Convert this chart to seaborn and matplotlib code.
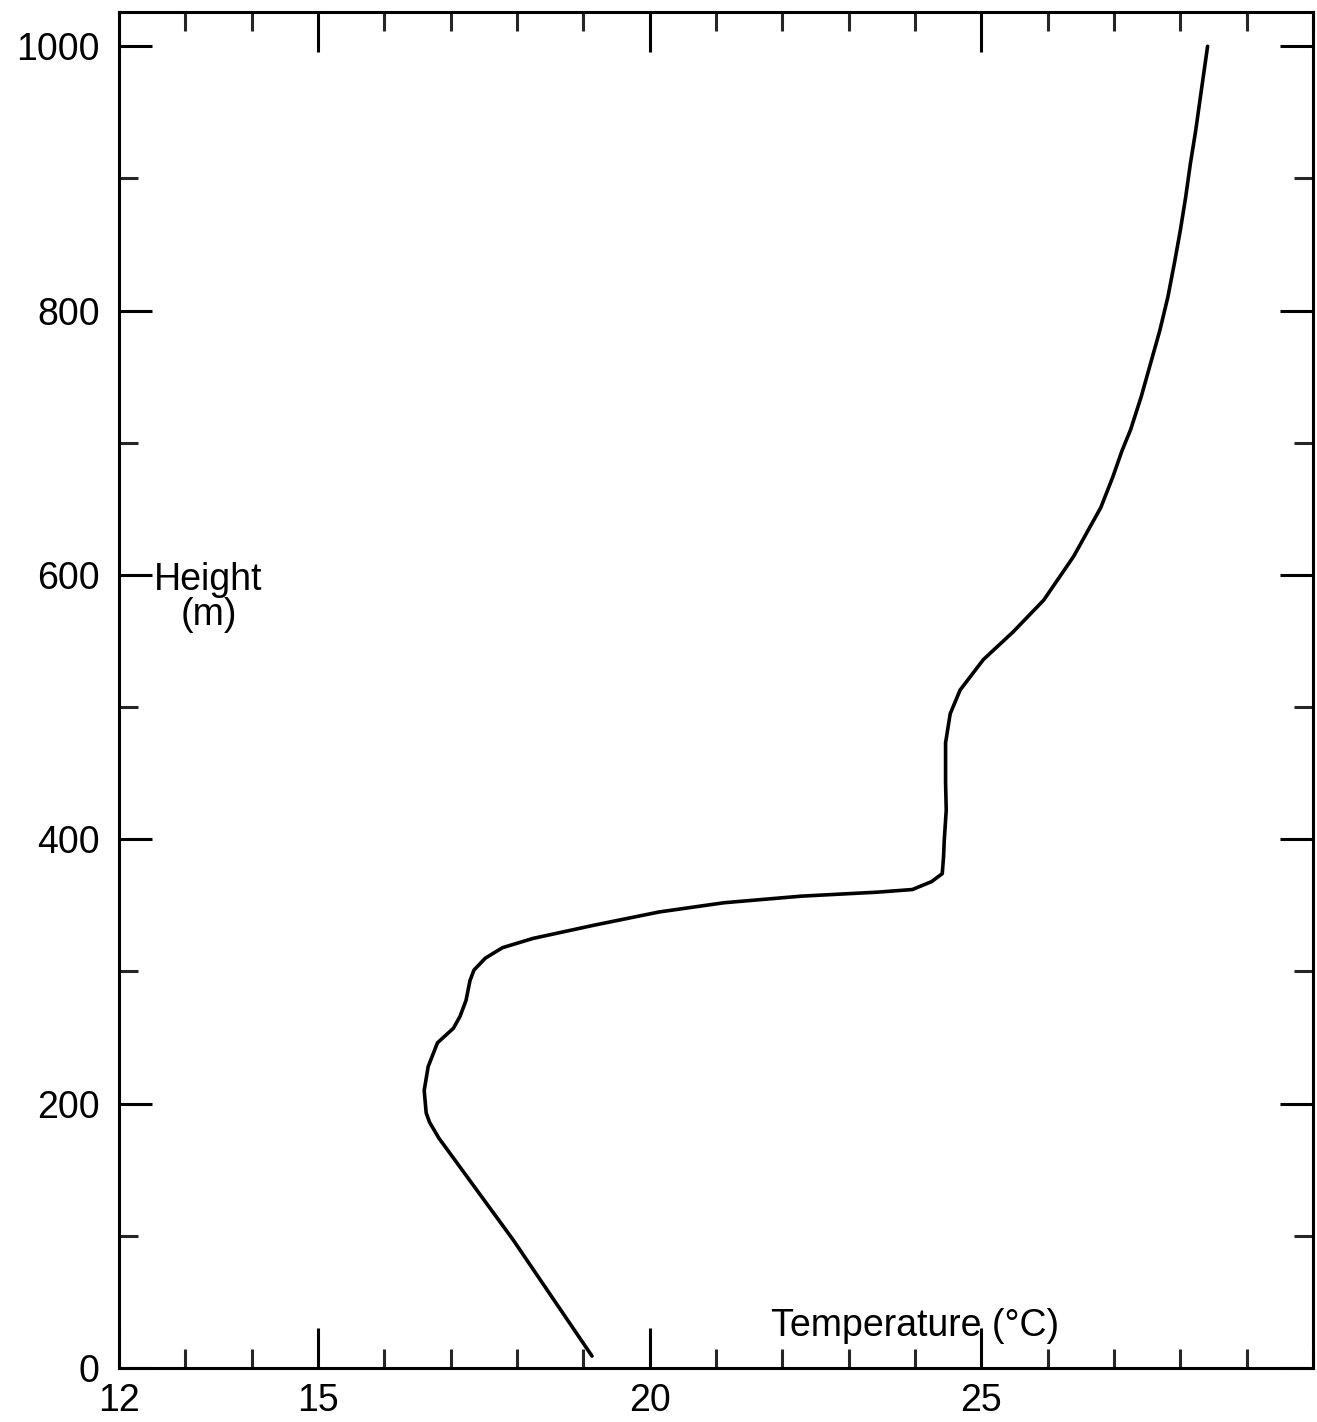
import matplotlib
matplotlib.use("Agg")
import matplotlib.pyplot as plt
from matplotlib.ticker import FixedLocator, MultipleLocator
import pandas as pd
import seaborn as sns

# Temperature profile: height (m) and temperature (deg C), from the ground up
height_m = [9, 97, 174, 186, 193, 210, 228, 246, 257, 266, 278, 293, 301, 310,
            318, 325, 335, 345, 352, 357, 360, 362, 368, 374, 387, 399, 422,
            443, 473, 495, 513, 536, 557, 581, 614, 651, 674, 694, 710, 735,
            760, 785, 810, 836, 861, 886, 911, 936, 961, 1000]
temperature_c = [19.13, 17.94, 16.82, 16.68, 16.63, 16.60, 16.66, 16.80, 17.04,
                 17.14, 17.23, 17.29, 17.35, 17.52, 17.78, 18.24, 19.16, 20.14,
                 21.12, 22.29, 23.43, 23.96, 24.25, 24.41, 24.43, 24.44, 24.47,
                 24.46, 24.46, 24.53, 24.68, 25.03, 25.48, 25.94, 26.39, 26.80,
                 26.98, 27.12, 27.25, 27.41, 27.55, 27.69, 27.81, 27.91, 28.00,
                 28.08, 28.15, 28.23, 28.30, 28.41]

x_tick_values = [12, 15, 20, 25]
x_tick_labels = ["12", "15", "20", "25"]
y_tick_values = [0, 200, 400, 600, 800, 1000]

profile = pd.DataFrame({"Temperature": temperature_c, "Height": height_m})

sns.set_theme(style="ticks")
plt.rcParams["font.family"] = ["Liberation Sans", "DejaVu Sans"]

fig = plt.figure(figsize=(13.17, 14.22), dpi=100)
fig.patch.set_facecolor("white")
ax = fig.add_axes([0.0904, 0.038, 0.9066, 0.9536])
ax.set_facecolor("white")

sns.lineplot(data=profile, x="Temperature", y="Height", sort=False,
             estimator=None, color="black", linewidth=2.6, ax=ax)
for line in ax.get_lines():
    line.set_solid_joinstyle("round")
    line.set_solid_capstyle("round")

ax.set_xlim(12, 30)
ax.set_ylim(0, 1026)

ax.xaxis.set_major_locator(FixedLocator(x_tick_values))
ax.set_xticklabels(x_tick_labels)
ax.xaxis.set_minor_locator(MultipleLocator(1))
ax.yaxis.set_major_locator(FixedLocator(y_tick_values))
ax.yaxis.set_minor_locator(MultipleLocator(100))

for side in ["left", "right", "top", "bottom"]:
    ax.spines[side].set_visible(True)
    ax.spines[side].set_linewidth(2.2)
    ax.spines[side].set_color("black")

ax.tick_params(axis="x", which="major", direction="in", length=29, width=2.2,
               top=True, bottom=True, pad=11, labelsize=27, colors="black")
ax.tick_params(axis="x", which="minor", direction="in", length=14, width=2.2,
               top=True, bottom=True)
ax.tick_params(axis="y", which="major", direction="in", length=24, width=2.2,
               left=True, right=True, pad=14, labelsize=27, colors="black")
ax.tick_params(axis="y", which="minor", direction="in", length=14, width=2.2,
               left=True, right=True)

ax.set_xlabel("")
ax.set_ylabel("")

ax.text(13.35, 596, "Height", fontsize=27, ha="center", va="center", color="black")
ax.text(13.35, 570, "(m)", fontsize=27, ha="center", va="center", color="black")
ax.text(24.0, 32, "Temperature (°C)", fontsize=27, ha="center", va="center",
        color="black")

fig.savefig("out.png", dpi=100, facecolor="white")
